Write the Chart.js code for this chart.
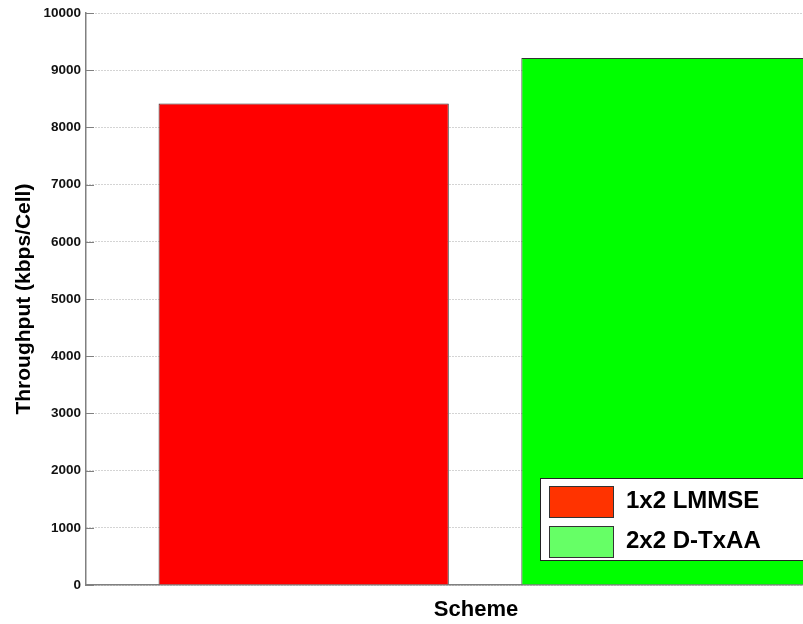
<!DOCTYPE html>
<html>
<head>
<meta charset="utf-8">
<script src="https://cdn.jsdelivr.net/npm/chart.js@4.4.0/dist/chart.umd.min.js"></script>
<style>
  html, body { margin: 0; padding: 0; background: #fff; }
  /* the original figure is wider than the picture, so the right side is cut off */
  .frame { width: 803px; height: 624px; overflow: hidden; }
  canvas { display: block; }
</style>
</head>
<body>
<div class="frame"><canvas id="throughputChart" width="866" height="624"></canvas></div>
<script>
const schemes = ['1x2 LMMSE', '2x2 D-TxAA'];
const schemePositions = [1, 2];
const throughput = [8420, 9215];
const yTicks = [0, 1000, 2000, 3000, 4000, 5000, 6000, 7000, 8000, 9000, 10000];
const barColors = ['#ff0000', '#00ff00'];
const legendColors = ['#ff3300', '#66ff66'];

const fontFamily = '"Liberation Sans", Arial, Helvetica, sans-serif';

// short tick marks pointing into the plot, like the original
const inwardTicks = {
    id: 'inwardTicks',
    afterDatasetsDraw(chart) {
        const { ctx, chartArea, scales: { y } } = chart;
        ctx.save();
        ctx.strokeStyle = '#808080';
        ctx.lineWidth = 1;
        y.ticks.forEach(t => {
            const py = Math.round(y.getPixelForValue(t.value)) + 0.5;
            ctx.beginPath();
            ctx.moveTo(chartArea.left, py);
            ctx.lineTo(chartArea.left + 8, py);
            ctx.stroke();
        });
        ctx.restore();
    }
};

// legend box sitting inside the plot, bottom right
const boxLegend = {
    id: 'boxLegend',
    afterDraw(chart) {
        const { ctx, chartArea } = chart;
        const left = chartArea.left + 454;
        const top = chartArea.bottom - 107;
        const right = chartArea.right - 8;
        const bottom = chartArea.bottom - 25;
        ctx.save();
        ctx.fillStyle = '#fff';
        ctx.fillRect(left, top, right - left, bottom - top);
        ctx.strokeStyle = '#222';
        ctx.lineWidth = 1;
        ctx.strokeRect(left + 0.5, top + 0.5, right - left, bottom - top);
        ctx.font = 'bold 24px ' + fontFamily;
        ctx.textBaseline = 'alphabetic';
        chart.data.datasets.forEach((ds, i) => {
            const sy = top + 8 + i * 40;
            ctx.fillStyle = legendColors[i];
            ctx.fillRect(left + 9, sy, 65, 32);
            ctx.strokeStyle = '#333';
            ctx.strokeRect(left + 9.5, sy + 0.5, 64, 31);
            ctx.fillStyle = '#000';
            ctx.fillText(ds.label, left + 86, sy + 22);
        });
        ctx.restore();
    }
};

const ctx = document.getElementById('throughputChart').getContext('2d');
new Chart(ctx, {
    type: 'bar',
    data: {
        datasets: schemes.map((name, i) => ({
            label: name,
            data: [{ x: schemePositions[i], y: throughput[i] }],
            backgroundColor: barColors[i],
            borderColor: '#333',
            borderWidth: 1,
            grouped: false,
            barPercentage: 1,
            categoryPercentage: 0.8
        }))
    },
    options: {
        responsive: false,
        animation: false,
        layout: { padding: { top: 12, left: 0, right: 0, bottom: 0 } },
        plugins: {
            legend: { display: false },
            tooltip: { enabled: false }
        },
        scales: {
            x: {
                type: 'linear',
                offset: false,
                min: 0.4,
                max: 2.55,
                afterBuildTicks: scale => {
                    scale.ticks = schemePositions.map(v => ({ value: v }));
                },
                afterFit: scale => { scale.height = 39; },
                ticks: { display: false },
                grid: { display: false },
                border: { display: true, color: '#808080', width: 1.5 },
                title: {
                    display: true,
                    text: 'Scheme',
                    color: '#000',
                    font: { family: fontFamily, size: 22, weight: 'bold' },
                    padding: { top: 0, bottom: 1 }
                }
            },
            y: {
                min: 0,
                max: 10000,
                afterBuildTicks: scale => {
                    scale.ticks = yTicks.map(v => ({ value: v }));
                },
                afterFit: scale => { scale.width = 86; },
                ticks: {
                    color: '#111',
                    padding: 5,
                    font: { family: fontFamily, size: 13.5, weight: 'bold' },
                    callback: v => String(v)
                },
                grid: {
                    drawTicks: false,
                    color: '#a8a8a8',
                    lineWidth: 1
                },
                border: { display: true, color: '#808080', width: 1.5, dash: [1, 2] },
                title: {
                    display: true,
                    text: 'Throughput (kbps/Cell)',
                    color: '#000',
                    font: { family: fontFamily, size: 21, weight: 'bold' },
                    padding: { top: 12, bottom: 0 }
                }
            }
        }
    },
    plugins: [inwardTicks, boxLegend]
});
</script>
</body>
</html>
